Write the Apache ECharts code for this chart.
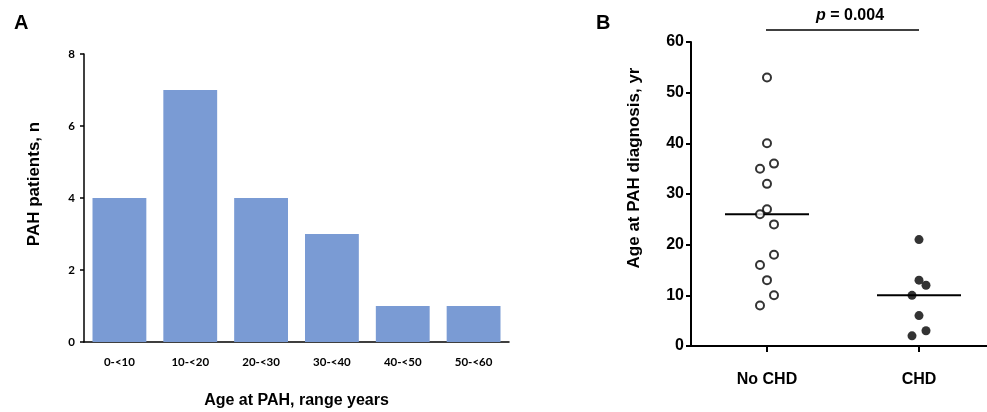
<!DOCTYPE html>
<html>
<head>
<meta charset="utf-8">
<script src="https://cdn.jsdelivr.net/npm/echarts@6/dist/echarts.min.js"></script>
<style>
  html, body { margin: 0; padding: 0; background: #fff; }
  #chart { width: 987px; height: 412px; }
</style>
</head>
<body>
<div id="chart"></div>
<script>
// panel A: histogram of age at PAH
var ageRanges = ['0-<10', '10-<20', '20-<30', '30-<40', '40-<50', '50-<60'];
var patientCounts = [4, 7, 4, 3, 1, 1];

// panel B: age at diagnosis by group
var groups = ['No CHD', 'CHD'];
var noChdAges = [53, 40, 36, 35, 32, 27, 26, 24, 18, 16, 13, 10, 8];
var chdAges = [21, 13, 12, 10, 6, 3, 2];
var medians = [26, 10];
var pValue = '0.004';

// column slot of each dot (-1 left, 0 middle, 1 right), so dots don't overlap
var noChdSlot = [0, 0, 1, -1, 0, 0, -1, 1, 1, -1, 0, 1, -1];
var chdSlot = [0, 0, 1, -1, 0, 1, -1];

var chart = echarts.init(document.getElementById('chart'));

function dots(ages, slots, idx) {
  return ages.map(function (v, i) {
    return { value: [idx, v], symbolOffset: [slots[i] * 7, 0] };
  });
}

var labelA = { color: '#000', fontWeight: 'bold', fontFamily: 'Lato', fontSize: 11.5 };
var labelB = { color: '#000', fontWeight: 'bold', fontFamily: 'Liberation Sans', fontSize: 16 };

chart.setOption({
  animation: false,
  textStyle: { fontFamily: 'Liberation Sans' },
  title: [
    { text: 'A', left: 9, top: 8, textStyle: { fontSize: 20, fontWeight: 'bold', color: '#000' } },
    { text: 'B', left: 591, top: 8, textStyle: { fontSize: 20, fontWeight: 'bold', color: '#000' } }
  ],
  grid: [
    { left: 84, top: 54, width: 425, height: 288, outerBoundsMode: 'none' },
    { left: 691, top: 42, width: 304, height: 304, outerBoundsMode: 'none' }
  ],
  xAxis: [
    {
      gridIndex: 0, type: 'category', data: ageRanges,
      name: 'Age at PAH, range years', nameLocation: 'middle', nameGap: 51,
      nameTextStyle: { color: '#000', fontWeight: 'bold', fontSize: 16 },
      axisLine: { lineStyle: { color: '#000', width: 1.5 } },
      axisTick: { show: false },
      axisLabel: Object.assign({ margin: 14 }, labelA)
    },
    {
      gridIndex: 1, type: 'category', data: groups,
      axisLine: { lineStyle: { color: '#000', width: 2 } },
      axisTick: { show: true, alignWithLabel: true, length: 6, lineStyle: { color: '#000', width: 2 } },
      axisLabel: Object.assign({ margin: 26 }, labelB)
    }
  ],
  yAxis: [
    {
      gridIndex: 0, type: 'value', min: 0, max: 8, interval: 2,
      name: 'PAH patients, n', nameLocation: 'middle', nameGap: 41,
      nameTextStyle: { color: '#000', fontWeight: 'bold', fontSize: 17, padding: [0, 0, 0, 28] },
      splitLine: { show: false },
      axisLine: { show: true, lineStyle: { color: '#000', width: 1.5 } },
      axisTick: { show: true, length: 4, lineStyle: { width: 1.5 } },
      axisLabel: Object.assign({ margin: 9 }, labelA)
    },
    {
      gridIndex: 1, type: 'value', min: 0, max: 60, interval: 10,
      name: 'Age at PAH diagnosis, yr', nameLocation: 'middle', nameGap: 48,
      nameTextStyle: { color: '#000', fontWeight: 'bold', fontSize: 17, padding: [0, 0, 0, 52] },
      splitLine: { show: false },
      axisLine: { show: true, lineStyle: { color: '#000', width: 2 } },
      axisTick: { show: true, length: 5, lineStyle: { width: 2 } },
      axisLabel: Object.assign({ margin: 7 }, labelB)
    }
  ],
  series: [
    {
      type: 'bar', xAxisIndex: 0, yAxisIndex: 0,
      data: patientCounts, barCategoryGap: '24%',
      itemStyle: { color: '#7a9bd4' }
    },
    {
      type: 'scatter', xAxisIndex: 1, yAxisIndex: 1,
      data: dots(noChdAges, noChdSlot, 0),
      symbol: 'circle', symbolSize: 8,
      itemStyle: { color: '#fff', borderColor: '#000', borderWidth: 2 }
    },
    {
      type: 'scatter', xAxisIndex: 1, yAxisIndex: 1,
      data: dots(chdAges, chdSlot, 1),
      symbol: 'circle', symbolSize: 9,
      itemStyle: { color: '#000' }
    },
    {
      // median bars
      type: 'custom', xAxisIndex: 1, yAxisIndex: 1,
      data: medians.map(function (m, i) { return [i, m]; }),
      renderItem: function (params, api) {
        var p = api.coord([api.value(0), api.value(1)]);
        return {
          type: 'line', z2: 5,
          shape: { x1: p[0] - 42, y1: p[1], x2: p[0] + 42, y2: p[1] },
          style: { stroke: '#000', lineWidth: 2 }
        };
      }
    },
    {
      // significance bracket
      type: 'custom', xAxisIndex: 1, yAxisIndex: 1, clip: false,
      data: [[0, 1]],
      renderItem: function (params, api) {
        var a = api.coord([0, 60]);
        var b = api.coord([1, 60]);
        var y = a[1] - 12;
        return {
          type: 'group',
          children: [
            { type: 'line', shape: { x1: a[0] - 1, y1: y, x2: b[0], y2: y },
              style: { stroke: '#000', lineWidth: 1.5 } },
            { type: 'text', x: (a[0] + b[0]) / 2 + 7, y: y - 6,
              style: {
                text: '{i|p} = ' + pValue,
                align: 'center', verticalAlign: 'bottom',
                fill: '#000', font: 'bold 16px "Liberation Sans"',
                rich: { i: { fontStyle: 'italic', fontWeight: 'bold', fontSize: 16, fontFamily: 'Liberation Sans' } }
              } }
          ]
        };
      }
    }
  ]
});
</script>
</body>
</html>
